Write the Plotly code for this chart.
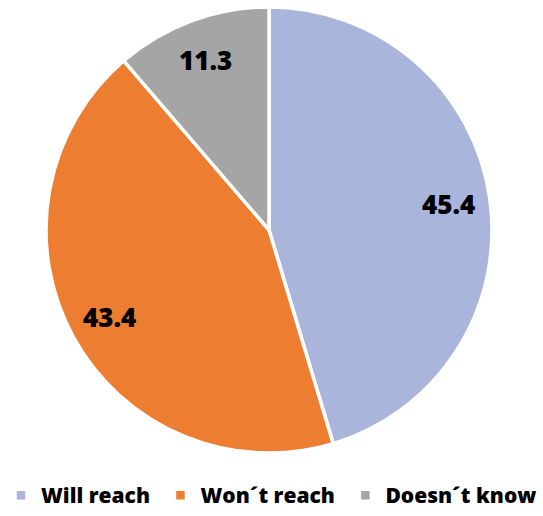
import math
import plotly.graph_objects as go

categories = ["Will reach", "Won´t reach", "Doesn´t know"]
values = [45.4, 43.4, 11.3]
colors = ["#A9B5DB", "#ED7D31", "#A5A5A5"]

FONT = "Open Sans"
W, H = 543, 516

# pie placement (paper fractions)
dom_x = [46 / W, 492 / W]
dom_y = [1 - 453 / H, 1 - 7 / H]

# legend entries get a little trailing room so the items spread out
PAD = "\u00a0"

fig = go.Figure(
    go.Pie(
        labels=[c + PAD if i < len(categories) - 1 else c for i, c in enumerate(categories)],
        values=values,
        sort=False,
        direction="clockwise",
        rotation=0,
        marker=dict(colors=colors, line=dict(color="white", width=3.5)),
        textinfo="none",
        hoverinfo="label+value",
        domain=dict(x=dom_x, y=dom_y),
    )
)

# value labels placed inside each slice, near the outer rim
cx = sum(dom_x) / 2
cy = sum(dom_y) / 2
rx = (dom_x[1] - dom_x[0]) / 2
ry = (dom_y[1] - dom_y[0]) / 2
total = sum(values)
cum = 0.0
r_frac = 0.815
for v in values:
    mid = (cum + v / 2) / total * 2 * math.pi
    cum += v
    fig.add_annotation(
        x=cx + math.sin(mid) * r_frac * rx,
        y=cy + math.cos(mid) * r_frac * ry,
        xref="paper", yref="paper", xanchor="center", yanchor="middle",
        text=str(v), showarrow=False,
        font=dict(family=FONT, size=26, color="black", weight=800),
    )

fig.update_layout(
    width=W, height=H,
    margin=dict(l=0, r=0, t=0, b=0),
    paper_bgcolor="white",
    plot_bgcolor="white",
    showlegend=True,
    legend=dict(
        orientation="h", x=0.5, xanchor="center", y=0, yanchor="bottom",
        font=dict(family=FONT, size=21, color="black", weight=800),
        itemwidth=30, traceorder="normal",
    ),
)

fig.write_html("out.html")
